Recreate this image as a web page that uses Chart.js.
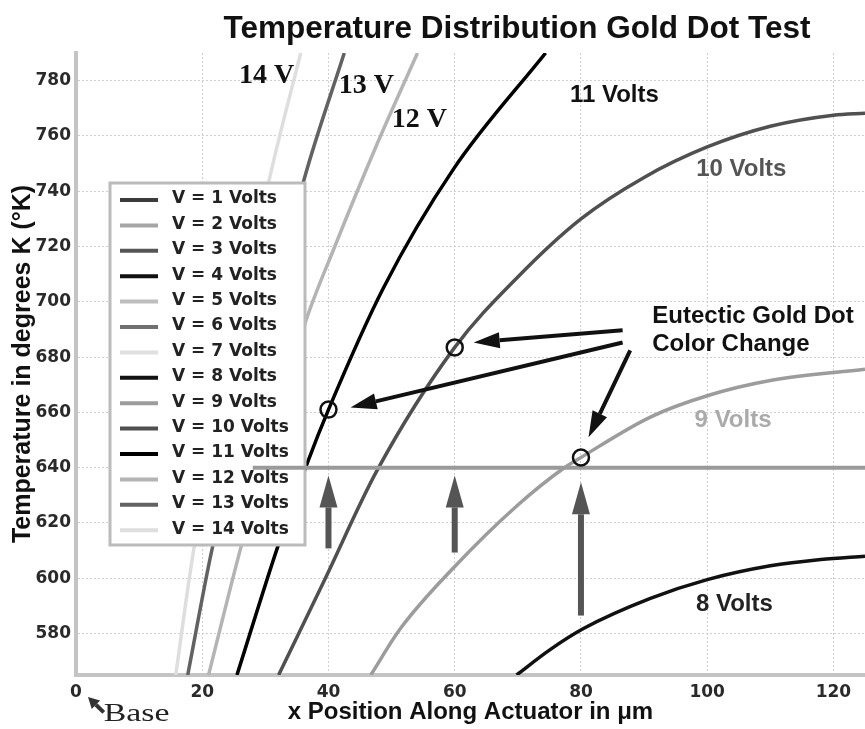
<!DOCTYPE html>
<html>
<head>
<meta charset="utf-8">
<script src="https://cdn.jsdelivr.net/npm/chart.js@4.4.1/dist/chart.umd.min.js"></script>
<style>
  html, body { margin: 0; padding: 0; background: #fff; overflow: hidden; }
  canvas { display: block; }
</style>
</head>
<body>
<canvas id="chart" width="865" height="729"></canvas>
<script>
const voltages = [1, 2, 3, 4, 5, 6, 7, 8, 9, 10, 11, 12, 13, 14];
const lineColors = ['#3c3c3c', '#a6a6a6', '#555555', '#111111', '#bdbdbd', '#707070', '#e0e0e0',
  '#111111', '#9c9c9c', '#505050', '#000000', '#b4b4b4', '#626262', '#dedede'];

// x position (um) / temperature (K).
// 1 - 7 Volts stay below 565 K so they only show up in the legend
const x8 = [69.8, 75, 80.4, 91, 100, 110, 118, 125];
const t8 = [565, 574, 581.8, 592.7, 599.5, 604.5, 606.8, 608];
const x9 = [46.7, 51.4, 59.9, 70, 77.2, 80, 91, 100, 110, 125];
const t9 = [565, 581.8, 604, 626.5, 639.7, 643.7, 658.3, 666, 671.5, 675.6];
const x10 = [32.1, 39.3, 47.7, 60, 70, 80, 90, 100, 110, 120, 125];
const t10 = [565, 599, 639, 683.5, 709, 730, 745, 756, 763.5, 767.5, 768.2];
const x11 = [25.5, 31.9, 36.7, 40, 48.7, 59.8, 74.4];
const t11 = [565, 611, 642, 661, 705, 748, 790];
const x12 = [21, 26.1, 31.5, 36.4, 41, 47.5, 54.1];
const t12 = [565, 611, 655, 693, 720, 756, 790];
const x13 = [17.7, 21.6, 36.1, 42.5];
const t13 = [565, 611, 744, 790];
const x14 = [15.8, 18.7, 30.6, 35.6];
const t14 = [565, 611, 744, 790];

// color change points and the 640 K line
const dotX = [40, 60, 80];
const dotT = [661, 683.5, 643.7];
const limitX = [28, 125];
const limitT = [640, 640];

const xTicks = [0, 20, 40, 60, 80, 100, 120];
const yTicks = [580, 600, 620, 640, 660, 680, 700, 720, 740, 760, 780];

const curves = { 8: [x8, t8], 9: [x9, t9], 10: [x10, t10], 11: [x11, t11], 12: [x12, t12], 13: [x13, t13], 14: [x14, t14] };

const pts = (xs, ys) => xs.map((x, i) => ({ x, y: ys[i] }));

const datasets = voltages.map((v, i) => ({
  label: `V = ${v} Volts`,
  data: curves[v] ? pts(curves[v][0], curves[v][1]) : [],
  borderColor: lineColors[i],
  borderWidth: 3.5,
  pointRadius: 0,
  cubicInterpolationMode: 'monotone',
  fill: false,
}));
datasets.push({
  label: 'limit',
  data: pts(limitX, limitT),
  borderColor: '#9a9a9a',
  borderWidth: 4,
  pointRadius: 0,
  order: -1,
});
datasets.push({
  label: 'dots',
  data: pts(dotX, dotT),
  showLine: false,
  pointRadius: 8,
  pointBorderWidth: 2.5,
  pointBorderColor: '#111',
  pointBackgroundColor: 'rgba(0,0,0,0)',
  order: -2,
});

// text on the plot, in axis units
const notes = [
  { text: '14 V', x: 30.2, t: 781.6, font: 'bold 28px "Liberation Serif"', color: '#111' },
  { text: '13 V', x: 46, t: 778, font: 'bold 28px "Liberation Serif"', color: '#111' },
  { text: '12 V', x: 54.4, t: 766, font: 'bold 28px "Liberation Serif"', color: '#111' },
  { text: '11 Volts', x: 85.3, t: 774.8, font: 'bold 24px "Liberation Sans"', color: '#111' },
  { text: '10 Volts', x: 105.4, t: 748, font: 'bold 24px "Liberation Sans"', color: '#555' },
  { text: '9 Volts', x: 104.1, t: 657.1, font: 'bold 24px "Liberation Sans"', color: '#aaa' },
  { text: '8 Volts', x: 104.3, t: 590.5, font: 'bold 24px "Liberation Sans"', color: '#222' },
  { text: 'Eutectic Gold Dot', x: 91.3, t: 694.6, font: 'bold 24px "Liberation Sans"', color: '#111', align: 'left' },
  { text: 'Color Change', x: 91.3, t: 684.6, font: 'bold 24px "Liberation Sans"', color: '#111', align: 'left' },
];

// arrows: [fromX, fromT, toX, toT]
const upArrows = [[40, 610.8, 40, 637.2], [60, 609.3, 60, 637.2], [80, 586.5, 80, 634.7]];
const blackArrows = [[86.6, 689.7, 63.0, 685.3], [86.6, 685.3, 43.5, 661.8], [87.8, 682.4, 81.2, 651]];
const baseArrow = [4.4, 551.5, 1.9, 557];

function arrow(ctx, x1, y1, x2, y2, color, width, headLen, headW) {
  const a = Math.atan2(y2 - y1, x2 - x1);
  const bx = x2 - headLen * Math.cos(a), by = y2 - headLen * Math.sin(a);
  ctx.save();
  ctx.strokeStyle = color;
  ctx.fillStyle = color;
  ctx.lineWidth = width;
  ctx.beginPath();
  ctx.moveTo(x1, y1);
  ctx.lineTo(bx, by);
  ctx.stroke();
  ctx.beginPath();
  ctx.moveTo(x2, y2);
  ctx.lineTo(bx + headW / 2 * Math.sin(a), by - headW / 2 * Math.cos(a));
  ctx.lineTo(bx - headW / 2 * Math.sin(a), by + headW / 2 * Math.cos(a));
  ctx.closePath();
  ctx.fill();
  ctx.restore();
}

const legendBox = {
  id: 'legendBox',
  afterDatasetDraw(chart, args) {
    if (args.index !== 0) return;
    const { ctx, chartArea } = chart;
    const left = chartArea.left + 34, top = chartArea.top + 130;
    const w = 195, h = 362;
    ctx.save();
    ctx.fillStyle = '#fff';
    ctx.fillRect(left, top, w, h);
    ctx.strokeStyle = '#bbb';
    ctx.lineWidth = 3;
    ctx.strokeRect(left, top, w, h);
    ctx.font = 'bold 17px "DejaVu Sans"';
    ctx.textBaseline = 'middle';
    voltages.forEach((v, i) => {
      const y = top + 17 + i * 25.4;
      ctx.strokeStyle = lineColors[i];
      ctx.lineWidth = 4;
      ctx.beginPath();
      ctx.moveTo(left + 10, y);
      ctx.lineTo(left + 48, y);
      ctx.stroke();
      ctx.fillStyle = '#222';
      ctx.fillText(chart.data.datasets[i].label, left + 62, y - 1);
    });
    ctx.restore();
  },
};

const marks = {
  id: 'marks',
  afterDraw(chart) {
    const { ctx, scales: { x, y } } = chart;
    ctx.save();
    ctx.font = 'bold 31.5px "Liberation Sans"';
    ctx.fillStyle = '#111';
    ctx.textAlign = 'center';
    ctx.textBaseline = 'middle';
    ctx.fillText('Temperature Distribution Gold Dot Test', 517, 29);

    notes.forEach(n => {
      ctx.font = n.font;
      ctx.fillStyle = n.color;
      ctx.textAlign = n.align || 'center';
      ctx.fillText(n.text, x.getPixelForValue(n.x), y.getPixelForValue(n.t));
    });

    // "Base" marker under the origin, a little stretched like the scan
    ctx.save();
    ctx.translate(x.getPixelForValue(4.4), y.getPixelForValue(551));
    ctx.scale(1.3, 1);
    ctx.font = '26px "Liberation Serif"';
    ctx.fillStyle = '#222';
    ctx.textAlign = 'left';
    ctx.fillText('Base', 0, 0);
    ctx.restore();

    upArrows.forEach(a => arrow(ctx, x.getPixelForValue(a[0]), y.getPixelForValue(a[1]),
      x.getPixelForValue(a[2]), y.getPixelForValue(a[3]), '#555', 6, 32, 18));
    blackArrows.forEach(a => arrow(ctx, x.getPixelForValue(a[0]), y.getPixelForValue(a[1]),
      x.getPixelForValue(a[2]), y.getPixelForValue(a[3]), '#111', 4, 26, 16));
    arrow(ctx, x.getPixelForValue(baseArrow[0]), y.getPixelForValue(baseArrow[1]),
      x.getPixelForValue(baseArrow[2]), y.getPixelForValue(baseArrow[3]), '#333', 4, 11, 12);
    ctx.restore();
  },
};

new Chart(document.getElementById('chart'), {
  type: 'line',
  data: { datasets },
  plugins: [legendBox, marks],
  options: {
    responsive: false,
    animation: false,
    devicePixelRatio: 1,
    layout: { autoPadding: false, padding: { top: 53, left: 0, right: 0, bottom: 0 } },
    plugins: {
      legend: { display: false },
      title: { display: false },
      tooltip: { enabled: false },
    },
    scales: {
      x: {
        type: 'linear',
        min: 0,
        max: 125,
        afterBuildTicks: s => { s.ticks = xTicks.map(v => ({ value: v })); },
        afterFit: s => { s.height = 54; s.paddingLeft = 0; s.paddingRight = 0; },
        grid: { color: '#cfcfcf', lineWidth: 1, drawTicks: false },
        border: { color: '#c4c4c4', width: 4, dash: [2, 2] },
        ticks: { padding: 7, color: '#2a2a2a', font: { family: 'DejaVu Sans', weight: 'bold', size: 17 } },
        title: {
          display: true,
          text: 'x Position Along Actuator in \u03bcm',
          color: '#111',
          padding: { top: 0, bottom: 2 },
          font: { family: 'Liberation Sans', weight: 'bold', size: 24 },
        },
      },
      y: {
        min: 565,
        max: 790,
        afterBuildTicks: s => { s.ticks = yTicks.map(v => ({ value: v })); },
        afterFit: s => { s.width = 76; s.paddingTop = 0; s.paddingBottom = 0; },
        grid: { color: '#cfcfcf', lineWidth: 1, drawTicks: false },
        border: { color: '#c4c4c4', width: 4, dash: [2, 2] },
        ticks: { padding: 5, color: '#2a2a2a', font: { family: 'DejaVu Sans', weight: 'bold', size: 17 } },
        title: {
          display: true,
          text: 'Temperature in degrees K (\u00b0K)',
          color: '#111',
          padding: { top: 8, bottom: 0 },
          font: { family: 'Liberation Sans', weight: 'bold', size: 25 },
        },
      },
    },
  },
});
</script>
</body>
</html>
